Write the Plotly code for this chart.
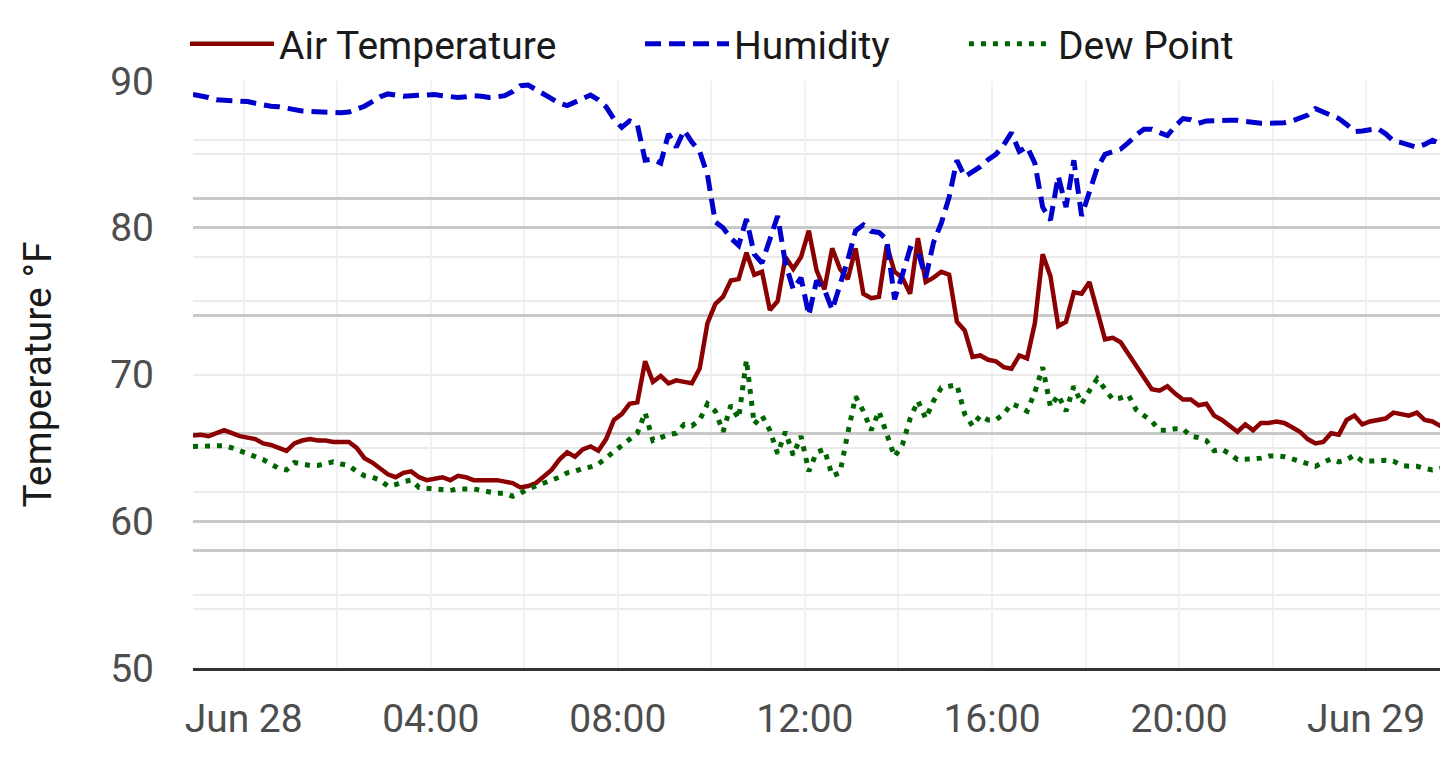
import pandas as pd
import plotly.graph_objects as go

# 10-minute readings from Jun 27 22:55 to Jun 29 01:45
times = pd.date_range("2024-06-27 22:55", periods=162, freq="10min")

air_temp = [
    65.85, 65.9, 65.8, 66.0, 66.2, 66.0,
    65.8, 65.7, 65.6, 65.3, 65.2, 65.0,
    64.8, 65.3, 65.5, 65.6, 65.5, 65.5,
    65.4, 65.4, 65.4, 65.0, 64.3, 64.0,
    63.6, 63.2, 63.0, 63.3, 63.4, 63.0,
    62.8, 62.9, 63.0, 62.8, 63.1, 63.0,
    62.8, 62.8, 62.8, 62.8, 62.7, 62.6,
    62.3, 62.4, 62.6, 63.1, 63.5, 64.2,
    64.7, 64.4, 64.9, 65.1, 64.8, 65.6,
    66.9, 67.3, 68.0, 68.1, 70.9, 69.5,
    69.9, 69.4, 69.6, 69.5, 69.4, 70.4,
    73.5, 74.8, 75.3, 76.4, 76.5, 78.3,
    76.8, 77.0, 74.4, 75.0, 78.0, 77.2,
    78.0, 79.8, 77.1, 75.8, 78.6, 77.2,
    76.5, 78.6, 75.5, 75.2, 75.3, 78.8,
    77.0, 76.6, 75.5, 79.3, 76.3, 76.6,
    77.0, 76.8, 73.6, 73.0, 71.2, 71.3,
    71.0, 70.9, 70.5, 70.4, 71.3, 71.1,
    73.5, 78.2, 76.7, 73.3, 73.6, 75.6,
    75.5, 76.3, 74.4, 72.4, 72.5, 72.2,
    71.4, 70.6, 69.8, 69.0, 68.9, 69.2,
    68.7, 68.3, 68.3, 67.9, 68.0, 67.2,
    66.9, 66.5, 66.1, 66.6, 66.2, 66.7,
    66.7, 66.8, 66.7, 66.4, 66.1, 65.6,
    65.3, 65.4, 66.0, 65.9, 66.9, 67.2,
    66.6, 66.8, 66.9, 67.0, 67.4, 67.3,
    67.2, 67.4, 66.9, 66.8, 66.5, 67.2,
]

humidity = [
    97.7, 97.5, 97.2, 96.8, 96.7, 96.8,
    96.6, 96.5, 96.2, 95.9, 95.7, 95.6,
    95.3, 95.0, 94.9, 94.8, 94.7, 94.7,
    94.6, 94.6, 94.7, 95.2, 95.7, 96.5,
    97.3, 97.8, 97.6, 97.4, 97.5, 97.6,
    97.7, 97.7, 97.5, 97.3, 97.2, 97.3,
    97.5, 97.4, 97.2, 97.3, 97.5, 98.2,
    99.2, 99.3, 98.6, 97.8, 97.0, 96.2,
    95.8, 96.4, 97.0, 97.6, 96.8, 95.6,
    93.5, 92.1, 93.2, 92.6, 86.5, 86.7,
    86.0, 91.0, 88.7, 91.6, 89.6, 88.0,
    84.0, 76.0, 75.0, 73.2, 72.0, 76.5,
    70.5, 69.0, 73.0, 77.0, 69.0, 64.5,
    66.5, 60.1, 66.0, 64.5, 61.0, 65.0,
    69.5, 74.5, 75.5, 74.4, 74.2, 73.0,
    62.8, 67.0, 71.5, 71.0, 66.5, 72.5,
    75.8, 80.2, 86.5, 83.7, 84.5, 85.4,
    86.6, 87.5, 89.1, 91.2, 88.0, 88.8,
    86.0, 78.5, 76.3, 83.8, 78.5, 86.5,
    77.0, 81.0, 85.2, 87.5, 88.0, 88.4,
    89.5, 90.8, 91.8, 91.8, 91.2, 90.7,
    92.3, 93.6, 93.4, 92.8, 93.2, 93.3,
    93.3, 93.3, 93.3, 93.1, 92.9, 92.8,
    92.8, 92.8, 92.9, 93.2, 93.6, 94.2,
    95.3, 94.8, 94.2, 93.6, 92.6, 91.4,
    91.5, 91.8, 91.9, 91.0, 89.8, 89.5,
    89.0, 88.7, 89.2, 89.9, 89.3, 88.5,
]

dew_point = [
    65.1, 65.1, 65.1, 65.1, 65.15, 65.0,
    64.8, 64.6, 64.4, 64.2, 63.9, 63.6,
    63.5, 64.0, 63.9, 63.8, 63.8, 63.9,
    64.05, 63.9, 63.8, 63.4, 63.1, 63.0,
    62.8, 62.4, 62.5, 62.7, 62.8, 62.3,
    62.25, 62.2, 62.15, 62.1, 62.2, 62.2,
    62.2, 62.1, 62.0, 61.9, 61.9, 61.7,
    61.9, 62.2, 62.4, 62.6, 62.8, 63.0,
    63.3, 63.4, 63.6, 63.7, 63.9, 64.3,
    64.8, 65.1, 65.5, 66.0, 67.4, 65.5,
    65.7, 65.9, 66.0, 66.6, 66.5, 66.9,
    68.0, 67.5, 66.1, 67.9, 67.0, 71.0,
    66.6, 67.2, 66.2, 64.6, 66.1, 64.5,
    65.8, 63.4, 64.7, 64.9, 63.1, 63.3,
    66.0, 68.5, 67.5, 66.2, 67.5, 66.0,
    64.4, 65.2, 67.0, 68.2, 67.0, 68.2,
    69.1, 69.2, 69.3, 67.3, 66.5, 67.2,
    66.9, 66.9, 67.3, 68.0, 67.8, 67.5,
    68.8, 70.5, 67.8, 68.6, 67.5, 69.2,
    68.0, 68.9, 69.7, 69.0, 68.3, 68.4,
    68.6, 67.6, 67.2, 66.8, 66.2, 66.2,
    66.3, 66.3, 65.8, 65.7, 65.5, 64.8,
    64.9, 64.6, 64.2, 64.2, 64.25, 64.3,
    64.45, 64.45, 64.4, 64.25, 64.1, 63.9,
    63.75, 64.0, 64.25, 64.05, 64.2, 64.5,
    64.1, 64.1, 64.15, 64.15, 64.1, 63.8,
    63.75, 63.75, 63.6, 63.5, 63.6, 63.6,
]

tick_times = pd.date_range("2024-06-28 00:00", periods=7, freq="4h")
tick_labels = ["Jun 28", "04:00", "08:00", "12:00", "16:00", "20:00", "Jun 29"]
temp_ticks = [50, 60, 70, 80, 90]
temp_dark_grid = [60, 80]

FONT = "Roboto"
FS = 39
MAJOR = "#c9c9c9"
MINOR = "#ebebeb"
VGRID = "#f2f2f2"

fig = go.Figure()
fig.add_trace(go.Scatter(
    x=times, y=air_temp, name="Air Temperature", mode="lines", legend="legend",
    line=dict(color="#8b0000", width=4.5), yaxis="y"))
fig.add_trace(go.Scatter(
    x=times, y=humidity, name="Humidity", mode="lines", legend="legend2",
    line=dict(color="#0000cd", width=5, dash="16px,8px"), yaxis="y2"))
fig.add_trace(go.Scatter(
    x=times, y=dew_point, name="Dew Point", mode="lines", legend="legend3",
    line=dict(color="#006400", width=5, dash="5px,7px"), yaxis="y"))
# empty helper trace so the grid-only axis y3 gets drawn
fig.add_trace(go.Scatter(
    x=[times[0]], y=[None], mode="lines", showlegend=False,
    hoverinfo="skip", yaxis="y3"))

leg_common = dict(orientation="h", xanchor="left", y=1.063, yanchor="middle",
                  font=dict(family=FONT, size=FS, color="#1a1a1a"),
                  bgcolor="rgba(0,0,0,0)", itemwidth=84)

fig.update_layout(
    width=1440, height=749,
    margin=dict(l=185, r=0, t=73, b=89),
    paper_bgcolor="white", plot_bgcolor="white",
    font=dict(family=FONT, size=FS, color="#4d4d4d"),
    showlegend=True,
    legend=dict(x=-0.0064, **leg_common),
    legend2=dict(x=0.3562, **leg_common),
    legend3=dict(x=0.6143, **leg_common),
    xaxis=dict(
        range=[times[0], times[-1]],
        tickmode="array", tickvals=tick_times, ticktext=tick_labels,
        showgrid=True, gridcolor=VGRID, gridwidth=2,
        minor=dict(dtick=2 * 3600 * 1000, showgrid=True, gridcolor=VGRID, gridwidth=2),
        showline=True, linecolor="#333333", linewidth=2.5,
        ticks="", zeroline=False, ticklabelstandoff=14,
        tickfont=dict(family=FONT, size=FS, color="#4d4d4d"),
    ),
    yaxis=dict(
        range=[50, 90], tickmode="array", tickvals=temp_ticks,
        showgrid=True, gridcolor=MINOR, gridwidth=2,
        minor=dict(dtick=5, showgrid=True, gridcolor=MINOR, gridwidth=2),
        zeroline=False, ticks="", ticklabelstandoff=38,
        tickfont=dict(family=FONT, size=FS, color="#4d4d4d"),
        title=dict(text="Temperature °F", standoff=46,
                   font=dict(family=FONT, size=FS, color="#1a1a1a")),
    ),
    yaxis2=dict(
        range=[0, 100], dtick=20, tick0=0, overlaying="y", side="right",
        showticklabels=False, ticks="",
        showgrid=True, gridcolor=MAJOR, gridwidth=2.5,
        minor=dict(dtick=10, showgrid=True, gridcolor=MINOR, gridwidth=2),
        zeroline=False,
    ),
    yaxis3=dict(
        range=[50, 90], tickmode="array", tickvals=temp_dark_grid,
        overlaying="y", side="left", showticklabels=False, ticks="",
        showgrid=True, gridcolor=MAJOR, gridwidth=2.5, zeroline=False,
    ),
)

fig.write_html("out.html")
